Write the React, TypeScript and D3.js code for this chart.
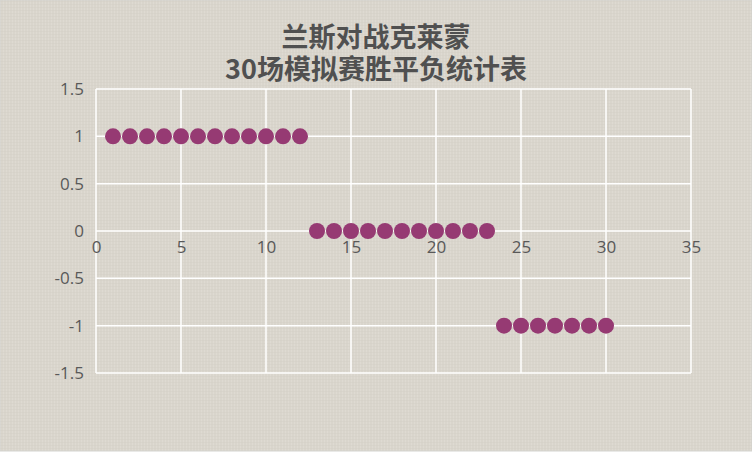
import * as d3 from "d3";
import { useEffect, useRef } from "react";

// 30 simulated matches: 1 = win, 0 = draw, -1 = loss
const matchNo = d3.range(1, 31);
const results = [
    1, 1, 1, 1, 1, 1, 1, 1, 1, 1, 1, 1,
    0, 0, 0, 0, 0, 0, 0, 0, 0, 0, 0,
    -1, -1, -1, -1, -1, -1, -1,
];
const xTicks = [0, 5, 10, 15, 20, 25, 30, 35];
const yTicks = [1.5, 1, 0.5, 0, -0.5, -1, -1.5];
const titleLines = ["兰斯对战克莱蒙", "30场模拟赛胜平负统计表"];

const width = 752;
const height = 465;
const marginLeft = 96;
const marginRight = 61;
const marginTop = 89;
const marginBottom = 92;

const App = () => {
    const gx = useRef(null);
    const gy = useRef(null);

    const x = d3.scaleLinear().domain([0, 35]).range([marginLeft, width - marginRight]);
    const y = d3.scaleLinear().domain([-1.5, 1.5]).range([height - marginBottom, marginTop]);

    useEffect(() => {
        d3.select(gx.current)
            .call(d3.axisBottom(x).tickValues(xTicks).tickSize(0).tickPadding(10).tickFormat(d3.format("d")))
            .call(g => g.selectAll(".domain").remove())
            .call(g => g.selectAll(".tick text")
                .attr("fill", "#595959")
                .attr("font-size", 17)
                .attr("font-family", "'Open Sans', 'Noto Sans', sans-serif"));
        d3.select(gy.current)
            .call(d3.axisLeft(y).tickValues(yTicks).tickSize(0).tickPadding(12).tickFormat(d => String(d)))
            .call(g => g.selectAll(".domain").remove())
            .call(g => g.selectAll(".tick text")
                .attr("fill", "#595959")
                .attr("font-size", 17)
                .attr("font-family", "'Open Sans', 'Noto Sans', sans-serif"));
    }, [x, y]);

    return (
        <div style={{ position: "absolute", left: 0, top: 0 }}>
            <svg width={width} height={height} style={{ display: "block" }}>
                <defs>
                    <pattern id="canvas" width="3" height="3" patternUnits="userSpaceOnUse">
                        <rect width="3" height="3" fill="#d9d5cc" />
                        <rect x="0" width="1" height="3" fill="#dedad2" />
                        <rect y="1" width="3" height="1" fill="#d4d0c6" opacity="0.5" />
                    </pattern>
                </defs>
                <rect width={width} height={height} fill="#ffffff" />
                <rect x={0} y={0} width={width} height={451} fill="url(#canvas)" stroke="#d3d3cf" />

                <g>
                    {xTicks.map((d, i) => (
                        <line key={i} x1={x(d)} x2={x(d)} y1={marginTop} y2={height - marginBottom} stroke="#ffffff" strokeWidth={1.5} />
                    ))}
                    {yTicks.map((d, i) => (
                        <line key={i} x1={marginLeft} x2={width - marginRight} y1={y(d)} y2={y(d)} stroke="#ffffff" strokeWidth={1.5} />
                    ))}
                </g>

                <g ref={gx} transform={`translate(0,${y(0)})`} />
                <g ref={gy} transform={`translate(${marginLeft},0)`} />

                <g>
                    {matchNo.map((m, i) => (
                        <circle key={m} cx={x(m)} cy={y(results[i])} r={8} fill="#963a73" />
                    ))}
                </g>

                <g fontFamily="'Microsoft YaHei', 'Noto Sans CJK SC', sans-serif" fontWeight="bold" fontSize={27} fill="#505050" textAnchor="middle">
                    {titleLines.map((t, i) => (
                        <text key={i} x={width / 2} y={47 + i * 32}>{t}</text>
                    ))}
                </g>
            </svg>
        </div>
    );
};

export default App;
